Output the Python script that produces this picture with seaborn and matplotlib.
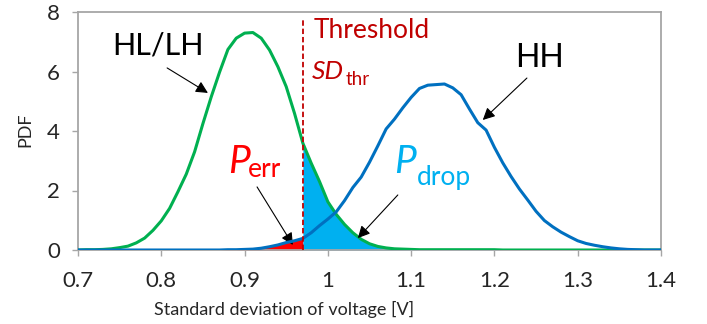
import numpy as np
import pandas as pd
import matplotlib
matplotlib.use('Agg')
import matplotlib.pyplot as plt
import seaborn as sns

# 数据：电压标准差 (V) 与两条概率密度曲线
sd_volt = np.arange(70, 141) / 100

pdf_hl_lh = [0.00, 0.01, 0.01, 0.02, 0.04, 0.08, 0.13, 0.24, 0.40, 0.66,
             0.98, 1.40, 1.96, 2.55, 3.30, 4.25, 5.15, 5.98, 6.74, 7.12,
             7.29, 7.31, 7.12, 6.72, 6.16, 5.49, 4.59, 3.59, 2.92, 2.30,
             1.62, 1.20, 0.86, 0.58, 0.36, 0.21, 0.12, 0.07, 0.04, 0.03,
             0.02, 0.01, 0.01, 0.01, 0.01, 0.01, 0.01, 0.01, 0.01, 0.01,
             0.01, 0.00, 0.00, 0.00, 0.00, 0.00, 0.00, 0.00, 0.00, 0.00,
             0.00, 0.00, 0.00, 0.00, 0.00, 0.00, 0.00, 0.00, 0.00, 0.00,
             0.00]

pdf_hh = [0.00, 0.00, 0.00, 0.00, 0.00, 0.00, 0.00, 0.00, 0.00, 0.00,
          0.00, 0.00, 0.00, 0.00, 0.00, 0.00, 0.00, 0.00, 0.01, 0.01,
          0.02, 0.03, 0.06, 0.11, 0.17, 0.25, 0.31, 0.39, 0.58, 0.82,
          1.04, 1.28, 1.66, 2.10, 2.45, 2.95, 3.50, 4.07, 4.40, 4.78,
          5.13, 5.43, 5.54, 5.56, 5.58, 5.45, 5.22, 4.74, 4.28, 4.03,
          3.45, 2.93, 2.47, 2.05, 1.68, 1.30, 0.99, 0.78, 0.60, 0.45,
          0.31, 0.22, 0.16, 0.11, 0.07, 0.04, 0.02, 0.01, 0.00, 0.00,
          0.00]

sd_thr = 0.97
x_ticks = [0.7, 0.8, 0.9, 1.0, 1.1, 1.2, 1.3, 1.4]
x_tick_labels = ['0.7', '0.8', '0.9', '1', '1.1', '1.2', '1.3', '1.4']
y_ticks = [0, 2, 4, 6, 8]

df = pd.DataFrame({'sd': sd_volt, 'HL/LH': pdf_hl_lh, 'HH': pdf_hh})

sns.set_style('white')
plt.rcParams['font.family'] = ['Lato', 'DejaVu Sans']

fig = plt.figure(figsize=(7.07, 3.24), dpi=100)
ax = fig.add_axes([78 / 707, 1 - 250 / 324, 583 / 707, 238 / 324])

# 阴影区域
x = df['sd'].values
ax.fill_between(x, 0, df['HH'], where=x <= sd_thr + 1e-9, color='#FF0000', lw=0, zorder=1)
ax.fill_between(x, 0, df['HL/LH'], where=x >= sd_thr - 1e-9, color='#00B0F0', lw=0, zorder=1)

# 曲线
sns.lineplot(data=df, x='sd', y='HL/LH', color='#00B050', linewidth=2.2, ax=ax, zorder=3)
sns.lineplot(data=df, x='sd', y='HH', color='#0070C0', linewidth=2.2, ax=ax, zorder=4)

# 阈值线
ax.plot([sd_thr, sd_thr], [0, 7.73], color='#C00000', lw=1.3, ls=(0, (3, 1.6)), zorder=5)

ax.set_xlim(0.7, 1.4)
ax.set_ylim(0, 8)
ax.set_xticks(x_ticks)
ax.set_xticklabels(x_tick_labels)
ax.set_yticks(y_ticks)
ax.tick_params(axis='x', direction='out', length=4, width=1, color='#A6A6A6',
               labelsize=16, pad=11, bottom=True)
ax.tick_params(axis='y', direction='out', length=4, width=1, color='#A6A6A6',
               labelsize=16, pad=9, left=True)
for s in ax.spines.values():
    s.set_color('#A6A6A6')
    s.set_linewidth(1.3)

ax.set_xlabel('Standard deviation of voltage [V]', fontsize=13)
ax.xaxis.set_label_coords(0.353, -0.215)
ax.set_ylabel('PDF', fontsize=13)
ax.yaxis.set_label_coords(-0.077, 0.504)

# 文字标注
ax.text(0.796, 6.89, 'HL/LH', fontsize=22, ha='center', va='center', color='black')
ax.text(1.254, 6.44, 'HH', fontsize=23, ha='center', va='center', color='black')
ax.text(0.983, 7.12, 'Threshold', fontsize=19, ha='left', va='baseline', color='#C00000')
ax.text(0.981, 5.74, 'SD', fontsize=19, style='italic', ha='left', va='baseline', color='#C00000')
ax.text(1.0217, 5.55, 'thr', fontsize=13.5, ha='left', va='baseline', color='#C00000')

ax.text(0.880, 2.58, 'P', fontsize=28, style='italic', ha='left', va='baseline', color='#FF0000')
ax.text(0.904, 2.45, 'err', fontsize=19, ha='left', va='baseline', color='#FF0000')
ax.text(1.079, 2.58, 'P', fontsize=28, style='italic', ha='left', va='baseline', color='#00B0F0')
ax.text(1.107, 2.18, 'drop', fontsize=19, ha='left', va='baseline', color='#00B0F0')

arrow = dict(arrowstyle='-|>', color='black', lw=0.8, mutation_scale=18, shrinkA=0, shrinkB=0)
ax.annotate('', xy=(0.856, 5.28), xytext=(0.807, 6.12), arrowprops=arrow)
ax.annotate('', xy=(1.186, 4.37), xytext=(1.239, 5.78), arrowprops=arrow)
ax.annotate('', xy=(0.958, 0.17), xytext=(0.915, 2.12), arrowprops=arrow)
ax.annotate('', xy=(1.036, 0.40), xytext=(1.084, 1.85), arrowprops=arrow)

plt.savefig('out.png', dpi=100)
